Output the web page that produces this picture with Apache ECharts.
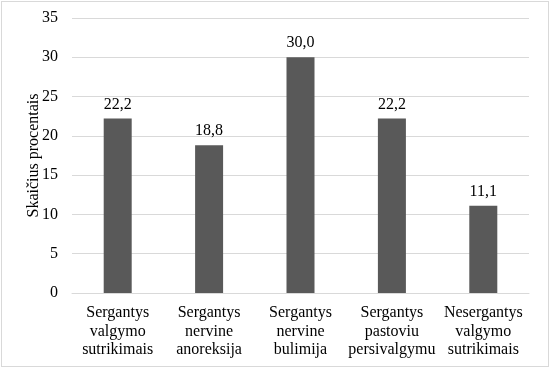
<!DOCTYPE html>
<html><head><meta charset="utf-8">
<script src="https://cdn.jsdelivr.net/npm/echarts@6/dist/echarts.min.js"></script>
<style>
html,body{margin:0;padding:0;background:#fff;}
#c{position:absolute;left:1px;top:1px;width:546px;height:364px;border:1px solid #d9d9d9;box-sizing:content-box;}
</style></head>
<body><div id="c"></div>
<script>
const categories = ["Sergantys\nvalgymo\nsutrikimais","Sergantys\nnervine\nanoreksija","Sergantys\nnervine\nbulimija","Sergantys\npastoviu\npersivalgymu","Nesergantys\nvalgymo\nsutrikimais"];
const values = [22.2, 18.8, 30.0, 22.2, 11.1];
const yTicks = {min:0, max:35, interval:5};
const yName = "Skaičius procentais";
const font = "Liberation Serif";
const chart = echarts.init(document.getElementById('c'));
chart.setOption({
  animation:false,
  textStyle:{fontFamily:font},
  grid:{left:70, right:19, top:16, bottom:73},
  xAxis:{type:'category', data:categories,
    axisLine:{lineStyle:{color:'#d9d9d9'}}, axisTick:{show:false},
    axisLabel:{color:'#000', fontSize:16, fontFamily:font, lineHeight:18.5, margin:11, interval:0}},
  yAxis:{type:'value', min:yTicks.min, max:yTicks.max, interval:yTicks.interval,
    name:yName, nameLocation:'middle', nameGap:30, nameRotate:90, nameMoveOverlap:false,
    nameTextStyle:{color:'#000', fontSize:16, fontFamily:font},
    axisLine:{show:false}, axisTick:{show:false},
    axisLabel:{color:'#000', fontSize:16, fontFamily:font, margin:14},
    splitLine:{lineStyle:{color:'#d9d9d9'}}},
  series:[{type:'bar', data:values, barWidth:28, itemStyle:{color:'#595959'},
    label:{show:true, position:'top', distance:6, color:'#000', fontSize:16, fontFamily:font,
      formatter:p=>p.value.toFixed(1).replace('.',',')}}]
});
</script></body></html>
